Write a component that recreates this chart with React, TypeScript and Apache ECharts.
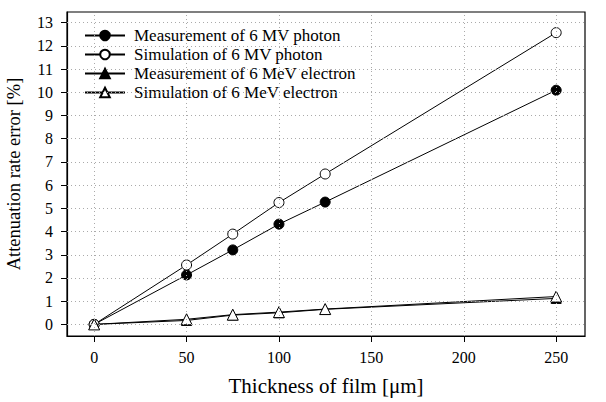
import React, { useEffect, useRef } from "react";
import * as echarts from "echarts";

const thickness = [0, 50, 75, 100, 125, 250];
const measPhoton = [0, 2.13, 3.21, 4.32, 5.27, 10.09];
const simPhoton = [0, 2.56, 3.89, 5.25, 6.48, 12.57];
const measElectron = [0, 0.17, 0.4, 0.5, 0.65, 1.12];
const simElectron = [0, 0.22, 0.42, 0.53, 0.66, 1.2];
const xTicks = [0, 50, 100, 150, 200, 250];
const yTicks = [0, 1, 2, 3, 4, 5, 6, 7, 8, 9, 10, 11, 12, 13];
const seriesNames = [
  "Measurement of 6 MV photon",
  "Simulation of 6 MV photon",
  "Measurement of 6 MeV electron",
  "Simulation of 6 MeV electron",
];

const FONT = "'Liberation Serif', 'Times New Roman', serif";

export default function App() {
  const ref = useRef<HTMLDivElement>(null);
  useEffect(() => {
    if (!ref.current) return;
    const chart = echarts.init(ref.current, null, { renderer: "svg" });
    const pts = (ys: number[]) => thickness.map((x, i) => [x, ys[i]]);
    const mk = (name: string, ys: number[], symbol: string, size: number, fill: string, z: number) => ({
      name,
      type: "line",
      data: pts(ys),
      symbol,
      symbolSize: size,
      showSymbol: true,
      z,
      lineStyle: { color: "#000", width: 1 },
      itemStyle: { color: fill, borderColor: "#000", borderWidth: 1 },
      color: "#000",
    });
    const gridStyle = { type: [1, 3], color: "#aaa", width: 1 };
    chart.setOption({
      animation: false,
      backgroundColor: "#fff",
      grid: {
        left: 67,
        right: 21,
        top: 12,
        bottom: 66,
        outerBoundsMode: "none",
        containLabel: false,
        show: true,
        borderColor: "#000",
        borderWidth: 1.2,
        backgroundColor: "transparent",
      },
      legend: {
        left: 79,
        top: 22,
        orient: "vertical",
        itemWidth: 40,
        itemHeight: 12,
        itemGap: 2,
        data: seriesNames,
        textStyle: { fontFamily: FONT, fontSize: 17, color: "#000", lineHeight: 17, padding: [0, 0, 0, 4] },
      },
      xAxis: {
        type: "value",
        min: -14.7,
        max: 265.6,
        name: "Thickness of film [\u03bcm]",
        nameLocation: "middle",
        nameGap: 39,
        nameTextStyle: { fontFamily: FONT, fontSize: 21, color: "#000" },
        axisLine: { show: true, onZero: false, lineStyle: { color: "#000", width: 1.2 } },
        axisTick: { show: true, customValues: xTicks, length: 6, lineStyle: { color: "#000" } },
        axisLabel: { customValues: xTicks, margin: 13, fontFamily: FONT, fontSize: 16, color: "#000" },
        splitLine: { show: false },
      },
      yAxis: {
        type: "value",
        min: -0.5,
        max: 13.46,
        name: "Attenuation rate error [%]",
        nameLocation: "middle",
        nameGap: 44,
        nameTextStyle: { fontFamily: FONT, fontSize: 18.5, color: "#000" },
        axisLine: { show: true, onZero: false, lineStyle: { color: "#000", width: 1.2 } },
        axisTick: { show: true, customValues: yTicks, length: 6, lineStyle: { color: "#000" } },
        axisLabel: { customValues: yTicks, margin: 14, fontFamily: FONT, fontSize: 16, color: "#000" },
        splitLine: { show: false },
      },
      series: [
        {
          name: "__grid",
          type: "line",
          data: [],
          z: 1,
          silent: true,
          markLine: {
            silent: true,
            symbol: ["none", "none"],
            label: { show: false },
            lineStyle: gridStyle,
            emphasis: { disabled: true },
            data: [
              ...xTicks.map((v) => ({ xAxis: v, lineStyle: gridStyle })),
              ...yTicks.map((v) => ({ yAxis: v, lineStyle: gridStyle })),
            ],
          },
        },
        mk(seriesNames[0], measPhoton, "circle", 10, "#000", 3),
        mk(seriesNames[1], simPhoton, "circle", 10, "#fff", 3),
        mk(seriesNames[2], measElectron, "triangle", 10, "#000", 3),
        mk(seriesNames[3], simElectron, "triangle", 11, "#fff", 4),
      ],
    });
    return () => chart.dispose();
  }, []);
  return <div ref={ref} style={{ position: "fixed", left: 0, top: 0, width: 606, height: 402 }} />;
}
